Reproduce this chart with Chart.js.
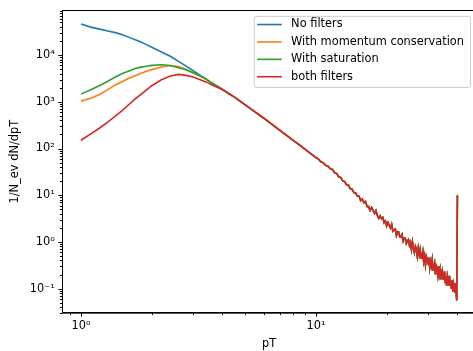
<!DOCTYPE html>
<html>
<head>
<meta charset="utf-8">
<script src="https://cdn.jsdelivr.net/npm/chart.js@4.4.0/dist/chart.umd.min.js"></script>
<style>
  html, body { margin: 0; padding: 0; background: #fff; overflow: hidden; }
  #wrap { width: 490px; height: 351px; }
</style>
</head>
<body>
<div id="wrap"><canvas id="spectrum" width="490" height="351"></canvas></div>
<script>
// low pT: the four curves differ here
var headPt = [1.0, 1.1, 1.2, 1.3, 1.4, 1.5, 1.6, 1.7, 1.8, 1.9, 2.0, 2.2, 2.4, 2.6, 2.8, 3.0, 3.2, 3.4, 3.6, 3.8, 4.0];
var noFilters = [46600, 39800, 36000, 33000, 30300, 27400, 24000, 21300, 19000, 16800, 14800, 11700, 9460, 7330, 5800, 4650, 3760, 3070, 2560, 2160, 1860];
var momentumCons = [1035, 1190, 1440, 1820, 2300, 2720, 3180, 3620, 4110, 4530, 4890, 5580, 6000, 5690, 4940, 4210, 3610, 3090, 2520, 2150, 1850];
var saturation = [1460, 1810, 2240, 2760, 3400, 4040, 4590, 5180, 5530, 5790, 6040, 6210, 6000, 5370, 4850, 4180, 3610, 3080, 2520, 2150, 1850];
var bothFilters = [150, 206, 275, 368, 494, 656, 875, 1150, 1450, 1800, 2210, 2960, 3560, 3860, 3680, 3400, 3020, 2670, 2330, 2050, 1815];

// high pT: all curves sit on top of each other
var tailPt = [4.25, 4.5, 5, 5.5, 6, 6.5, 7, 7.5, 8, 8.5, 9, 9.5, 10,
  10.25, 10.5, 10.75, 11, 11.25, 11.5, 11.75, 12, 12.25, 12.5, 12.75, 13, 13.25, 13.5, 13.75, 14, 14.25, 14.5, 14.75, 15,
  15.25, 15.5, 15.75, 16, 16.25, 16.5, 16.75, 17, 17.25, 17.5, 17.75, 18, 18.25, 18.5, 18.75, 19, 19.25, 19.5, 19.75, 20,
  20.25, 20.5, 20.75, 21, 21.25, 21.5, 21.75, 22, 22.25, 22.5, 22.75, 23, 23.25, 23.5, 23.75, 24, 24.25, 24.5, 24.75, 25,
  25.25, 25.5, 25.75, 26, 26.25, 26.5, 26.75, 27, 27.25, 27.5, 27.75, 28, 28.25, 28.5, 28.75, 29, 29.25, 29.5, 29.75, 30,
  30.25, 30.5, 30.75, 31, 31.25, 31.5, 31.75, 32, 32.25, 32.5, 32.75, 33, 33.25, 33.5, 33.75, 34, 34.25, 34.5, 34.75, 35,
  35.25, 35.5, 35.75, 36, 36.25, 36.5, 36.75, 37, 37.25, 37.5, 37.75, 38, 38.25, 38.5, 38.75, 39, 39.25, 39.5, 39.75, 40];
var tailVals = [1510, 1260, 860, 608, 445, 328, 248, 191, 149, 119, 95.5, 77.8, 64,
  59.5, 52.1, 49.3, 43.5, 41.8, 37.0, 35.6, 30.4, 28.9, 24.8, 23.8, 20.2, 19.6, 16.7, 16.3, 13.7, 13.5, 11.4, 11.2, 9.6,
  9.53, 7.64, 8.24, 6.92, 7.40, 5.73, 5.70, 4.73, 5.45, 4.76, 4.06, 4.68, 3.66, 3.20, 3.61, 3.16, 3.35, 2.57, 2.79, 2.19,
  2.61, 2.31, 1.99, 2.37, 1.70, 1.81, 1.88, 1.38, 1.65, 1.64, 1.27, 1.29, 1.45, 1.04, 1.19, 1.19, 0.925, 1.02, 1.11, 0.847,
  0.974, 0.690, 1.00, 0.726, 0.591, 0.798, 0.696, 0.493, 0.730, 0.530, 0.684, 0.453, 0.511, 0.631, 0.381, 0.493, 0.327, 0.486, 0.427, 0.333,
  0.462, 0.281, 0.381, 0.305, 0.414, 0.251, 0.284, 0.344, 0.200, 0.299, 0.262, 0.196, 0.300, 0.200, 0.255, 0.158, 0.216, 0.245, 0.160, 0.174,
  0.232, 0.135, 0.184, 0.115, 0.185, 0.152, 0.117, 0.188, 0.118, 0.144, 0.0986, 0.151, 0.0843, 0.132, 0.117, 0.0822, 0.132, 0.0845, 0.056, 10];

var xTicks = [0.9, 1, 2, 3, 4, 5, 6, 7, 8, 9, 10, 20, 30, 40];
var yDecades = [0.01, 0.1, 1, 10, 100, 1000, 10000];

function series(head) {
  var pts = [];
  for (var i = 0; i < headPt.length; i++) pts.push({ x: headPt[i], y: head[i] });
  for (var j = 0; j < tailPt.length; j++) pts.push({ x: tailPt[j], y: tailVals[j] });
  return pts;
}

var yTicks = [];
yDecades.forEach(function (d) {
  for (var k = 1; k <= 9; k++) yTicks.push(d * k);
});

var sup = { '-': '\u207B', '0': '\u2070', '1': '\u00B9', '2': '\u00B2', '3': '\u00B3', '4': '\u2074', '5': '\u2075', '6': '\u2076', '7': '\u2077', '8': '\u2078', '9': '\u2079' };
function isPow10(v) {
  var e = Math.log10(v);
  return Math.abs(e - Math.round(e)) < 1e-6;
}
function powLabel(v) {
  if (!isPow10(v)) return '';
  var e = String(Math.round(Math.log10(v)));
  return '10' + e.split('').map(function (c) { return sup[c]; }).join('');
}
function keepInRange(list) {
  return function (s) {
    s.ticks = list.filter(function (v) { return v >= s.min && v <= s.max; })
      .map(function (v) { return { value: v }; });
  };
}

// matplotlib-like frame, minor/major tick marks and legend box
var decorations = {
  id: 'decorations',
  afterDraw: function (chart) {
    var ctx = chart.ctx, a = chart.chartArea;
    ctx.save();
    ctx.strokeStyle = '#000';
    ctx.lineWidth = 1;
    ctx.strokeRect(Math.round(a.left) + 0.5, Math.round(a.top) + 0.5, a.right - a.left, a.bottom - a.top);

    var xs = chart.scales.x, ys = chart.scales.y;
    ctx.beginPath();
    xs.ticks.forEach(function (t) {
      var p = Math.round(xs.getPixelForValue(t.value)) + 0.5;
      var len = isPow10(t.value) ? 3.6 : 2.1;
      ctx.moveTo(p, a.bottom); ctx.lineTo(p, a.bottom + len);
    });
    ys.ticks.forEach(function (t) {
      var p = Math.round(ys.getPixelForValue(t.value)) + 0.5;
      var len = isPow10(t.value) ? 3.6 : 2.1;
      ctx.moveTo(a.left, p); ctx.lineTo(a.left - len, p);
    });
    ctx.stroke();

    var sets = chart.data.datasets;
    ctx.font = '11.4px "DejaVu Sans"';
    var maxW = 0;
    sets.forEach(function (d) { maxW = Math.max(maxW, ctx.measureText(d.label).width); });
    var right = a.right - 6, top = a.top + 5.5, rowH = 17.4;
    var textX = right - 6 - maxW;
    var left = textX - 37.3;
    var h = rowH * sets.length + 1.5;
    ctx.beginPath();
    ctx.roundRect(left + 0.5, top + 0.5, right - left, h, 2.5);
    ctx.fillStyle = 'rgba(255,255,255,0.8)';
    ctx.fill();
    ctx.strokeStyle = '#cccccc';
    ctx.stroke();
    ctx.textBaseline = 'middle';
    sets.forEach(function (d, i) {
      var y = top + 8.7 + i * rowH;
      ctx.strokeStyle = d.borderColor;
      ctx.lineWidth = 1.6;
      ctx.beginPath();
      ctx.moveTo(left + 3.3, y); ctx.lineTo(left + 28, y);
      ctx.stroke();
      ctx.fillStyle = '#000';
      ctx.fillText(d.label, textX, y);
    });
    ctx.restore();
  }
};

var tickFont = { family: 'DejaVu Sans', size: 11.4 };

new Chart(document.getElementById('spectrum').getContext('2d'), {
  type: 'line',
  data: {
    datasets: [
      { label: 'No filters', data: series(noFilters), borderColor: '#1f77b4', order: 3 },
      { label: 'With momentum conservation', data: series(momentumCons), borderColor: '#ff7f0e', order: 2 },
      { label: 'With saturation', data: series(saturation), borderColor: '#2ca02c', order: 1 },
      { label: 'both filters', data: series(bothFilters), borderColor: '#d62728', order: 0 }
    ]
  },
  options: {
    responsive: false,
    animation: false,
    devicePixelRatio: 1,
    layout: { padding: { top: 7, right: 14, left: 0, bottom: 0 } },
    elements: {
      line: { borderWidth: 1.6, tension: 0, fill: false },
      point: { radius: 0 }
    },
    plugins: {
      legend: { display: false },
      tooltip: { enabled: false }
    },
    scales: {
      x: {
        type: 'logarithmic',
        min: 0.83,
        max: 48,
        afterBuildTicks: keepInRange(xTicks),
        afterFit: function (s) { s.height = 38; },
        grid: { display: false, drawTicks: true, tickLength: 3.6 },
        border: { display: true, color: '#000', width: 1 },
        ticks: { autoSkip: false, maxRotation: 0, padding: 3, color: '#000', font: tickFont, callback: powLabel },
        title: { display: true, text: 'pT', color: '#000', font: tickFont, padding: { top: 0, bottom: 0 } }
      },
      y: {
        type: 'logarithmic',
        min: 0.03,
        max: 91000,
        afterBuildTicks: keepInRange(yTicks),
        afterFit: function (s) { s.width = 62; },
        grid: { display: false, drawTicks: true, tickLength: 3.6 },
        border: { display: true, color: '#000', width: 1 },
        ticks: { autoSkip: false, padding: 3.5, color: '#000', font: tickFont, callback: powLabel },
        title: { display: true, text: '1/N_ev dN/dpT', color: '#000', font: tickFont, padding: { top: 8, bottom: 0 } }
      }
    }
  },
  plugins: [decorations]
});
</script>
</body>
</html>
